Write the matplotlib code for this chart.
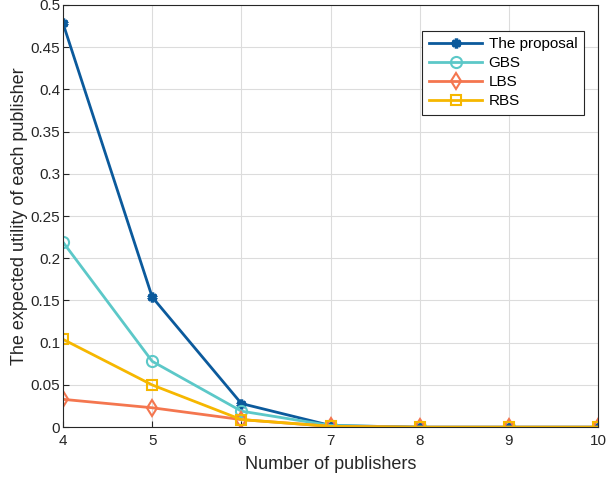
import numpy as np
import matplotlib.pyplot as plt

plt.rcParams['font.family'] = ['Liberation Sans', 'DejaVu Sans']

publishers = [4, 5, 6, 7, 8, 9, 10]
proposal = [0.478, 0.154, 0.028, 0.002, 0.0, 0.0, 0.0]
gbs = [0.219, 0.078, 0.019, 0.002, 0.0, 0.0, 0.0]
lbs = [0.033, 0.023, 0.009, 0.001, 0.0, 0.0, 0.0]
rbs = [0.104, 0.050, 0.009, 0.001, 0.0, 0.0, 0.0]

fig = plt.figure(figsize=(6.06, 4.8), dpi=100)
ax = fig.add_axes([0.104, 0.110, 0.883, 0.880])

ax.plot(publishers, proposal, '-', marker=(6, 2, 0), color='#0b5a9c', lw=2, ms=7, mew=2.5,
        label='The proposal')
ax.plot(publishers, gbs, '-o', color='#5cc8c8', lw=2, ms=8, mfc='none', mew=1.5, label='GBS')
ax.plot(publishers, lbs, '-d', color='#f4764f', lw=2, ms=8, mfc='none', mew=1.5, label='LBS')
ax.plot(publishers, rbs, '-s', color='#f6b700', lw=2, ms=7, mfc='none', mew=1.5, label='RBS')

ax.set_xlim(4, 10)
ax.set_ylim(0, 0.5)
ax.set_xticks(publishers)
ax.set_yticks(np.arange(0, 0.51, 0.05))
ax.set_yticklabels(['0', '0.05', '0.1', '0.15', '0.2', '0.25', '0.3', '0.35', '0.4', '0.45', '0.5'])
ax.grid(True, color='#dcdcdc', lw=0.8)
ax.tick_params(direction='in', labelsize=11, length=4, color='#262626', labelcolor='#262626')
ax.tick_params(axis='y', pad=2)
ax.tick_params(axis='x', pad=5)
for s in ax.spines.values():
    s.set_color('#262626')
ax.set_xlabel('Number of publishers', fontsize=13, color='#262626', labelpad=6)
ax.set_ylabel('The expected utility of each publisher', fontsize=13, color='#262626', labelpad=2)

leg = ax.legend(loc='upper right', bbox_to_anchor=(0.988, 0.957), fontsize=11, fancybox=False,
                edgecolor='#262626', framealpha=1, handlelength=3.5, labelspacing=0.32,
                borderpad=0.45, handletextpad=0.4)
leg.get_frame().set_linewidth(0.8)

fig.savefig('out.png', dpi=100)
